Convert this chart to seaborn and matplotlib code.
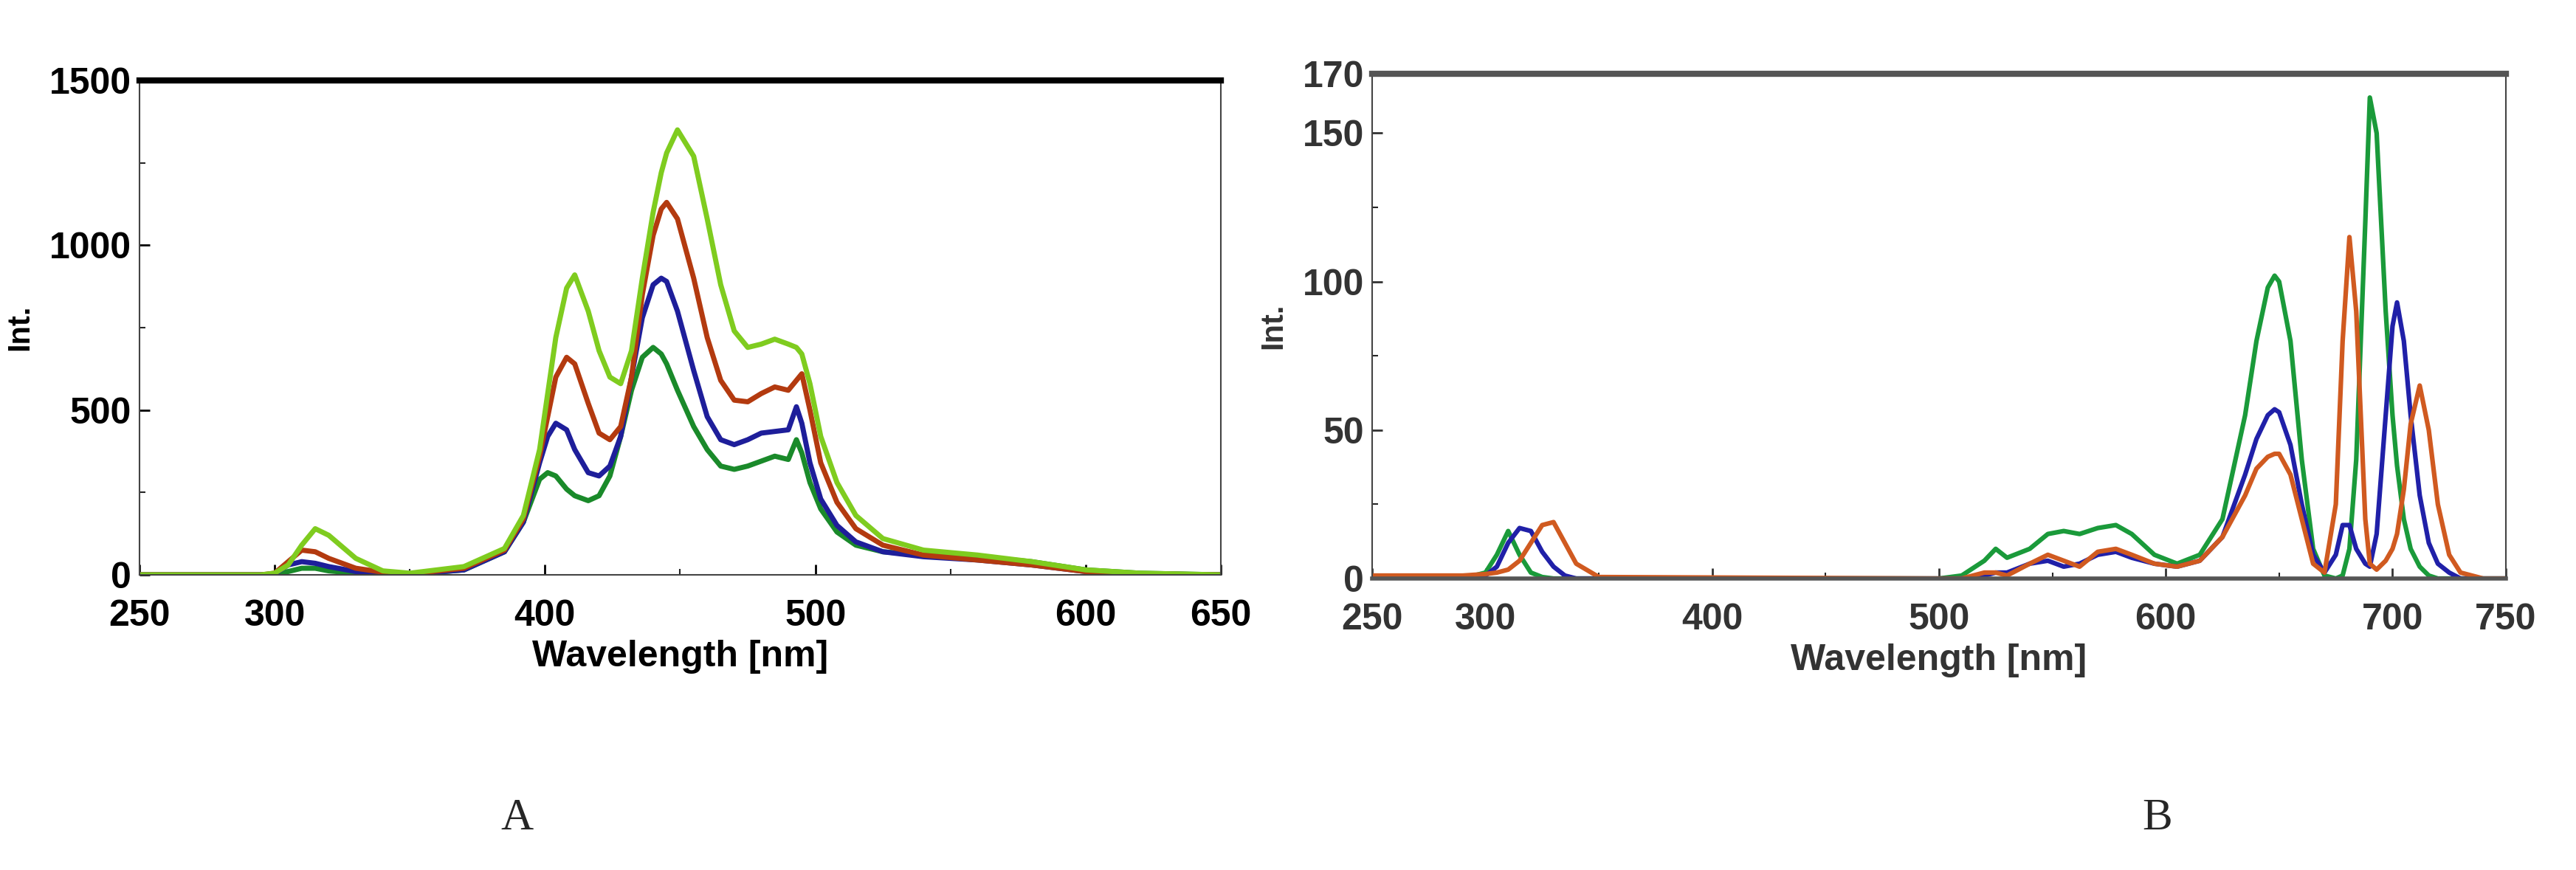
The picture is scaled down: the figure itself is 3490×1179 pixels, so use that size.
import numpy as np
import pandas as pd
import matplotlib
matplotlib.use("Agg")
import matplotlib.pyplot as plt
import seaborn as sns
from matplotlib.ticker import MultipleLocator

# panel A
wl_a = [250, 295, 300, 305, 310, 315, 320, 330, 340, 350, 370, 385, 392, 398, 401, 404, 408, 411, 416, 420,
        424, 428, 432, 436, 440, 443, 445, 449, 455, 460, 465, 470, 475, 480, 485, 490, 493, 495, 498, 502,
        508, 515, 525, 540, 560, 580, 600, 620, 650]
a_lightgreen = [0, 0, 5, 30, 90, 140, 120, 50, 12, 5, 25, 80, 180, 380, 550, 720, 870, 910, 800, 680,
                600, 580, 680, 900, 1100, 1220, 1280, 1350, 1270, 1080, 880, 740, 690, 700, 715, 700, 690, 670, 580, 420,
                280, 180, 110, 75, 60, 40, 15, 5, 0]
a_red = [0, 0, 5, 40, 75, 70, 50, 20, 8, 3, 20, 75, 170, 360, 480, 600, 660, 640, 520, 430,
         410, 450, 600, 850, 1030, 1110, 1130, 1080, 900, 720, 590, 530, 525, 550, 570, 560, 590, 610, 500, 340,
         220, 140, 90, 60, 45, 30, 10, 3, 0]
a_blue = [0, 0, 3, 30, 40, 35, 25, 10, 4, 2, 15, 70, 160, 340, 420, 460, 440, 380, 310, 300,
          330, 420, 600, 780, 880, 900, 890, 800, 620, 480, 410, 395, 410, 430, 435, 440, 510, 460, 340, 230,
          150, 100, 70, 55, 45, 30, 10, 3, 0]
a_darkgreen = [0, 0, 2, 10, 20, 20, 12, 5, 2, 1, 15, 70, 160, 290, 310, 300, 260, 240, 225, 240,
               300, 420, 560, 660, 690, 670, 640, 560, 450, 380, 330, 320, 330, 345, 360, 350, 410, 370, 280, 200,
               130, 90, 70, 60, 55, 40, 15, 5, 0]

# panel B
wl_b = [250, 290, 300, 305, 310, 315, 320, 325, 330, 335, 340, 350, 500, 510, 520, 525, 530, 540, 548, 555,
        562, 570, 578, 585, 595, 605, 615, 625, 635, 640, 645, 648, 650, 655, 660, 665, 670, 675, 678, 681,
        684, 688, 690, 693, 697, 700, 702, 705, 708, 712, 716, 720, 725, 730, 740, 750]
b_green = [0, 0, 2, 8, 16, 8, 2, 0.5, 0, 0, 0, 0, 0, 1, 6, 10, 7, 10, 15, 16,
           15, 17, 18, 15, 8, 5, 8, 20, 55, 80, 98, 102, 100, 80, 40, 10, 1, 0, 1, 10,
           40, 120, 162, 150, 90, 55, 38, 20, 10, 4, 1, 0, 0, 0, 0, 0]
b_blue = [0, 0, 1, 4, 12, 17, 16, 9, 4, 1, 0, 0, 0, 0, 1, 2, 2, 5, 6, 4,
          5, 8, 9, 7, 5, 4, 6, 14, 35, 47, 55, 57, 56, 45, 25, 8, 2, 8, 18, 18,
          10, 5, 4, 15, 55, 85, 93, 80, 55, 28, 12, 5, 2, 0, 0, 0]
b_orange = [1, 1, 1.5, 2, 3, 6, 12, 18, 19, 12, 5, 0.5, 0, 0, 2, 2, 1, 5, 8, 6,
            4, 9, 10, 8, 5, 4, 6, 14, 28, 37, 41, 42, 42, 35, 20, 5, 2, 25, 80, 115,
            90, 20, 5, 3, 6, 10, 15, 30, 52, 65, 50, 25, 8, 2, 0, 0]

sns.set_theme(style="white")
plt.rcParams['font.family'] = ['Liberation Sans Narrow', 'Liberation Sans', 'DejaVu Sans']

fig = plt.figure(figsize=(34.91, 11.79), dpi=100)
ax1 = fig.add_axes([189 / 3491, 1 - 779 / 1179, (1654 - 189) / 3491, (779 - 109) / 1179])
ax2 = fig.add_axes([1859 / 3491, 1 - 784 / 1179, (3395 - 1859) / 3491, (784 - 100) / 1179])

df_a = pd.DataFrame({"wl": wl_a, "lg": a_lightgreen, "r": a_red, "b": a_blue, "dg": a_darkgreen})
for col, c in [("dg", "#1a8a2a"), ("b", "#1e1e9a"), ("r", "#b33a0f"), ("lg", "#7fcc1f")]:
    sns.lineplot(data=df_a, x="wl", y=col, ax=ax1, color=c, linewidth=5)

df_b = pd.DataFrame({"wl": wl_b, "g": b_green, "b": b_blue, "o": b_orange})
for col, c in [("g", "#1a9a3a"), ("b", "#2020a8"), ("o", "#d05a20")]:
    sns.lineplot(data=df_b, x="wl", y=col, ax=ax2, color=c, linewidth=4.5)

ax1.set_xlim(250, 650)
ax1.set_ylim(0, 1500)
ax1.set_xticks([250, 300, 400, 500, 600, 650])
ax1.set_yticks([0, 500, 1000, 1500])
ax1.xaxis.set_minor_locator(MultipleLocator(50))
ax1.yaxis.set_minor_locator(MultipleLocator(250))

ax2.set_xlim(250, 750)
ax2.set_ylim(0, 170)
ax2.set_xticks([250, 300, 400, 500, 600, 700, 750])
ax2.set_yticks([0, 50, 100, 150, 170])
ax2.xaxis.set_minor_locator(MultipleLocator(50))
ax2.yaxis.set_minor_locator(MultipleLocator(25))

for ax, tcol in [(ax1, "black"), (ax2, "#333333")]:
    ax.set_xlabel("Wavelength [nm]", fontsize=36, fontweight="bold", color=tcol, labelpad=6)
    ax.set_ylabel("Int.", fontsize=30, fontweight="bold", color=tcol, labelpad=14)
    ax.tick_params(axis="both", which="major", labelsize=36, direction="in", length=10, width=2,
                   colors=tcol, bottom=True, left=True)
    ax.tick_params(axis="x", which="major", pad=24)
    ax.tick_params(axis="y", which="major", pad=8)
    ax.tick_params(axis="both", which="minor", direction="in", length=6, width=1.5, bottom=True, left=True)
    for t in ax.get_xticklabels() + ax.get_yticklabels():
        t.set_fontweight("bold")
    for s in ["left", "bottom", "right"]:
        ax.spines[s].set_linewidth(1.5)
        ax.spines[s].set_color("#444444")
    ax.spines["top"].set_linewidth(6)
    ax.spines["top"].set_color("black" if ax is ax1 else "#555555")

ax2.spines["bottom"].set_linewidth(4)
ax2.spines["bottom"].set_color("#555555")

fig.text(701 / 3491, 1 - 1109 / 1179, "A", fontsize=44, family="Liberation Serif", ha="center", va="center")
fig.text(2923 / 3491, 1 - 1109 / 1179, "B", fontsize=44, family="Liberation Serif", ha="center", va="center")

fig.savefig("out.png", dpi=100, facecolor="white")
